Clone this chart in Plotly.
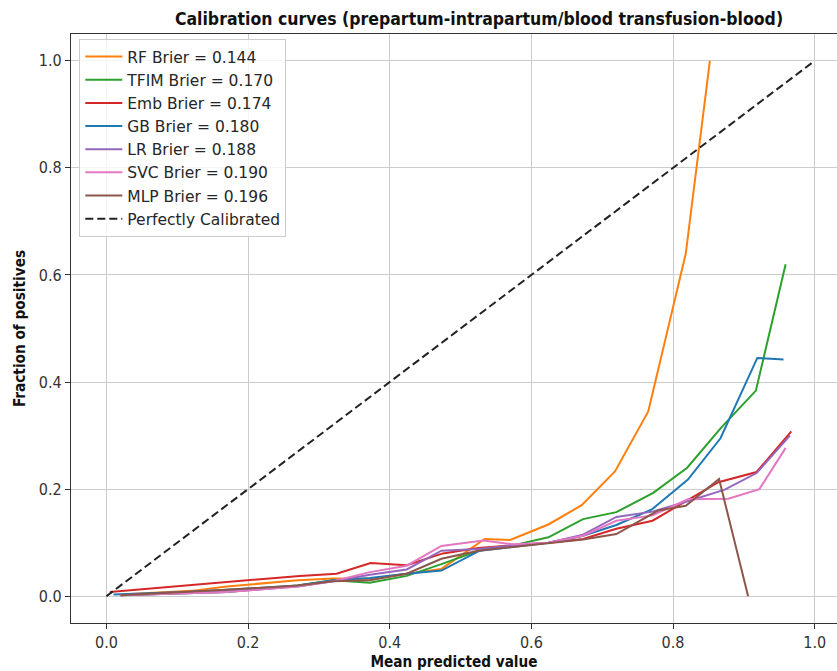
import plotly.graph_objects as go

# ---- data ----
rf_x = [0.02, 0.12, 0.17, 0.22, 0.27, 0.32, 0.37, 0.424, 0.473, 0.534, 0.57, 0.624, 0.671, 0.718, 0.765, 0.818, 0.852]
rf_y = [0.003, 0.010, 0.018, 0.024, 0.030, 0.033, 0.032, 0.042, 0.051, 0.107, 0.105, 0.134, 0.170, 0.233, 0.345, 0.640, 1.0]

tfim_x = [0.02, 0.07, 0.12, 0.17, 0.22, 0.27, 0.32, 0.372, 0.424, 0.473, 0.525, 0.574, 0.624, 0.673, 0.72, 0.772, 0.82, 0.868, 0.917, 0.959]
tfim_y = [0.002, 0.004, 0.006, 0.008, 0.014, 0.020, 0.030, 0.025, 0.038, 0.060, 0.085, 0.095, 0.110, 0.144, 0.157, 0.193, 0.240, 0.315, 0.384, 0.620]

emb_x = [0.005, 0.06, 0.11, 0.17, 0.22, 0.273, 0.325, 0.373, 0.424, 0.475, 0.525, 0.574, 0.624, 0.673, 0.72, 0.771, 0.821, 0.864, 0.918, 0.967]
emb_y = [0.008, 0.014, 0.020, 0.026, 0.031, 0.038, 0.042, 0.062, 0.058, 0.080, 0.090, 0.095, 0.100, 0.107, 0.126, 0.141, 0.180, 0.213, 0.232, 0.308]

gb_x = [0.01, 0.06, 0.11, 0.17, 0.22, 0.27, 0.32, 0.372, 0.424, 0.473, 0.527, 0.574, 0.624, 0.673, 0.72, 0.77, 0.821, 0.867, 0.919, 0.956]
gb_y = [0.003, 0.005, 0.008, 0.012, 0.016, 0.020, 0.030, 0.034, 0.042, 0.048, 0.085, 0.092, 0.100, 0.113, 0.133, 0.162, 0.218, 0.295, 0.445, 0.442]

lr_x = [0.02, 0.07, 0.12, 0.17, 0.22, 0.27, 0.32, 0.372, 0.424, 0.473, 0.525, 0.574, 0.624, 0.673, 0.72, 0.771, 0.822, 0.873, 0.918, 0.965]
lr_y = [0.002, 0.004, 0.006, 0.008, 0.013, 0.018, 0.028, 0.040, 0.050, 0.085, 0.088, 0.095, 0.100, 0.115, 0.148, 0.158, 0.178, 0.199, 0.230, 0.300]

svc_x = [0.02, 0.07, 0.12, 0.17, 0.22, 0.27, 0.32, 0.372, 0.424, 0.473, 0.532, 0.574, 0.624, 0.673, 0.72, 0.771, 0.821, 0.878, 0.922, 0.959]
svc_y = [0.002, 0.004, 0.006, 0.008, 0.013, 0.018, 0.028, 0.045, 0.057, 0.094, 0.104, 0.097, 0.100, 0.113, 0.141, 0.151, 0.181, 0.182, 0.200, 0.277]

mlp_x = [0.02, 0.07, 0.12, 0.17, 0.22, 0.27, 0.32, 0.372, 0.424, 0.473, 0.525, 0.574, 0.624, 0.673, 0.72, 0.779, 0.818, 0.865, 0.906]
mlp_y = [0.002, 0.005, 0.008, 0.012, 0.016, 0.020, 0.028, 0.030, 0.042, 0.070, 0.085, 0.092, 0.100, 0.106, 0.116, 0.160, 0.169, 0.219, 0.0]

diag = [0.0, 1.0]

names = ["RF Brier = 0.144", "TFIM Brier = 0.170", "Emb Brier = 0.174", "GB Brier = 0.180",
         "LR Brier = 0.188", "SVC Brier = 0.190", "MLP Brier = 0.196"]
colors = ["#ff7f0e", "#2ca02c", "#d62728", "#1f77b4", "#9467bd", "#e377c2", "#8c564b"]
series = [(rf_x, rf_y), (tfim_x, tfim_y), (emb_x, emb_y), (gb_x, gb_y),
          (lr_x, lr_y), (svc_x, svc_y), (mlp_x, mlp_y)]

fig = go.Figure()
for (xs, ys), nm, c in zip(series, names, colors):
    fig.add_trace(go.Scatter(x=xs, y=ys, mode="lines", name=nm,
                             line=dict(color=c, width=2)))
fig.add_trace(go.Scatter(x=diag, y=diag, mode="lines", name="Perfectly Calibrated",
                         line=dict(color="#222222", width=2, dash="8px,4px")))

fam = "DejaVu Sans"
cond = "DejaVu Sans Condensed, DejaVu Sans"
W, H = 837, 671
ml, mt, mb = 70.7, 34, 48.3

fig.update_layout(
    width=W, height=H,
    margin=dict(l=ml, r=0, t=mt, b=mb, pad=0),
    paper_bgcolor="white", plot_bgcolor="white",
    font=dict(family=fam, color="#262626"),
    title=dict(text="<b>Calibration curves (prepartum-intrapartum/blood transfusion-blood)</b>",
               x=479 / W, xanchor="center", y=1 - 19 / H, yanchor="middle",
               font=dict(family=cond, size=17.5, color="#111111")),
    showlegend=True,
    legend=dict(x=(79 - ml) / (W - ml), y=(H - mb - 39) / (H - mt - mb), xanchor="left", yanchor="top",
                bgcolor="rgba(255,255,255,0.8)", bordercolor="#cccccc", borderwidth=1,
                font=dict(family=fam, size=15.5, color="#262626"),
                itemwidth=37, tracegroupgap=0),
    xaxis=dict(range=[-0.05, (W - 106.7) / 708.0], tickvals=[0, 0.2, 0.4, 0.6, 0.8, 1.0],
               ticktext=["0.0", "0.2", "0.4", "0.6", "0.8", "1.0"],
               showgrid=True, gridcolor="#cccccc", gridwidth=1.3, zeroline=False,
               showline=True, linecolor="#333333", linewidth=1.3, mirror=True,
               ticks="outside", ticklen=5, tickcolor="#333333", tickwidth=1.3,
               tickfont=dict(family=cond, size=16, color="#333333"),
               title=dict(text="<b>Mean predicted value</b>", standoff=5,
                          font=dict(family=cond, size=15.2, color="#111111"))),
    yaxis=dict(range=[-0.05, 1.05], tickvals=[0, 0.2, 0.4, 0.6, 0.8, 1.0],
               ticktext=["0.0", "0.2", "0.4", "0.6", "0.8", "1.0"],
               showgrid=True, gridcolor="#cccccc", gridwidth=1.3, zeroline=False,
               showline=True, linecolor="#333333", linewidth=1.3, mirror=False,
               ticks="outside", ticklen=5, tickcolor="#333333", tickwidth=1.3,
               tickfont=dict(family=cond, size=16, color="#333333"),
               title=dict(text="<b>Fraction of positives</b>", standoff=9,
                          font=dict(family=cond, size=15.2, color="#111111"))),
)
fig.write_html("out.html")
